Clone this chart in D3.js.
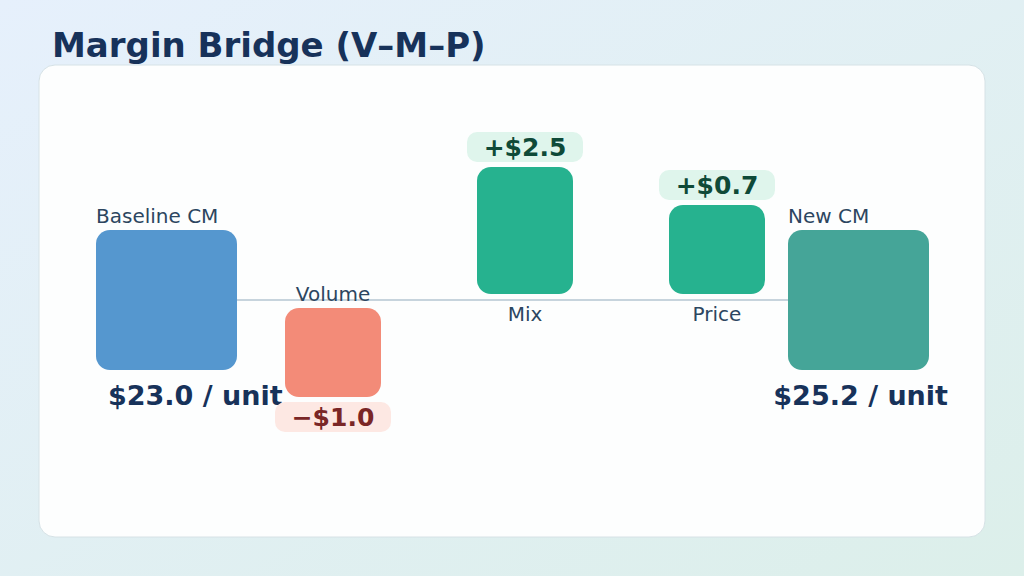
<!DOCTYPE html>
<html><head><meta charset="utf-8">
<script src="https://cdn.jsdelivr.net/npm/d3@7"></script>
<style>body{margin:0;font-family:"DejaVu Sans",sans-serif;}</style>
</head><body>
<svg id="chart" width="1024" height="576"></svg>
<script>
// bridge steps
const steps = ["Baseline CM", "Volume", "Mix", "Price", "New CM"];
const kinds = ["total", "delta", "delta", "delta", "total"];
const deltas = [23.0, -1.0, 2.5, 0.7, 25.2];
const colors = ["#5597cf", "#f38b78", "#26b28f", "#26b28f", "#45a598"];

const svg = d3.select("#chart");
const defs = svg.append("defs");
const bg = defs.append("linearGradient").attr("id", "bg").attr("x1", 0).attr("y1", 0).attr("x2", 1).attr("y2", 1);
bg.append("stop").attr("offset", 0).attr("stop-color", "#e6f0fc");
bg.append("stop").attr("offset", 1).attr("stop-color", "#dcefea");
svg.append("rect").attr("width", 1024).attr("height", 576).attr("fill", "url(#bg)");

svg.append("text").attr("x", 52).attr("y", 57)
    .attr("font-size", 34).attr("font-weight", "bold").attr("fill", "#17325a")
    .text("Margin Bridge (V\u2013M\u2013P)");

svg.append("rect").attr("x", 39).attr("y", 65).attr("width", 946).attr("height", 472)
    .attr("rx", 16).attr("fill", "#fdfefe").attr("stroke", "#d6e2e6");

const baseY = 300;
const x = d3.scaleOrdinal().domain(steps).range([96, 285, 477, 669, 788]);
const w = d => kinds[steps.indexOf(d)] === "total" ? 141 : 96;
const h = d3.scaleLinear().domain([0, 2.5]).range([0, 127]);
const hh = v => Math.max(89, h(Math.abs(v)));

svg.append("line").attr("x1", 237).attr("x2", 788).attr("y1", baseY).attr("y2", baseY)
    .attr("stroke", "#b4c6d2").attr("stroke-width", 1.5);

steps.forEach((s, i) => {
    const v = deltas[i];
    const g = svg.append("g");
    let y, H;
    if (kinds[i] === "total") { H = 140; y = baseY - 70; }
    else if (v > 0) { H = hh(v); y = baseY - 6 - H; }
    else { H = hh(v); y = baseY + 8; }
    g.append("rect").attr("x", x(s)).attr("y", y).attr("width", w(s)).attr("height", H)
        .attr("rx", 14).attr("fill", colors[i]);
    const cx = x(s) + w(s) / 2;
    if (kinds[i] === "total") {
        g.append("text").attr("x", x(s)).attr("y", y - 7).attr("font-size", 20).attr("fill", "#2c4660").text(s);
        const right = i === steps.length - 1;
        g.append("text").attr("x", right ? 948 : 108).attr("y", 405)
            .attr("text-anchor", right ? "end" : "start")
            .attr("font-size", 27).attr("font-weight", "bold").attr("fill", "#17325a")
            .text(`$${v.toFixed(1)} / unit`);
    } else {
        const pos = v > 0;
        g.append("text").attr("x", cx).attr("y", pos ? baseY + 21 : y - 7)
            .attr("text-anchor", "middle").attr("font-size", 20).attr("fill", "#2c4660").text(s);
        const py = pos ? y - 35 : y + H + 5;
        g.append("rect").attr("x", cx - 58).attr("y", py).attr("width", 116).attr("height", 30)
            .attr("rx", 10).attr("fill", pos ? "#dff5ec" : "#fde8e3");
        g.append("text").attr("x", cx).attr("y", py + 24).attr("text-anchor", "middle")
            .attr("font-size", 25).attr("font-weight", "bold").attr("fill", pos ? "#0f4a38" : "#7a2626")
            .text((pos ? "+" : "\u2212") + "$" + Math.abs(v).toFixed(1));
    }
});
</script>
</body></html>
